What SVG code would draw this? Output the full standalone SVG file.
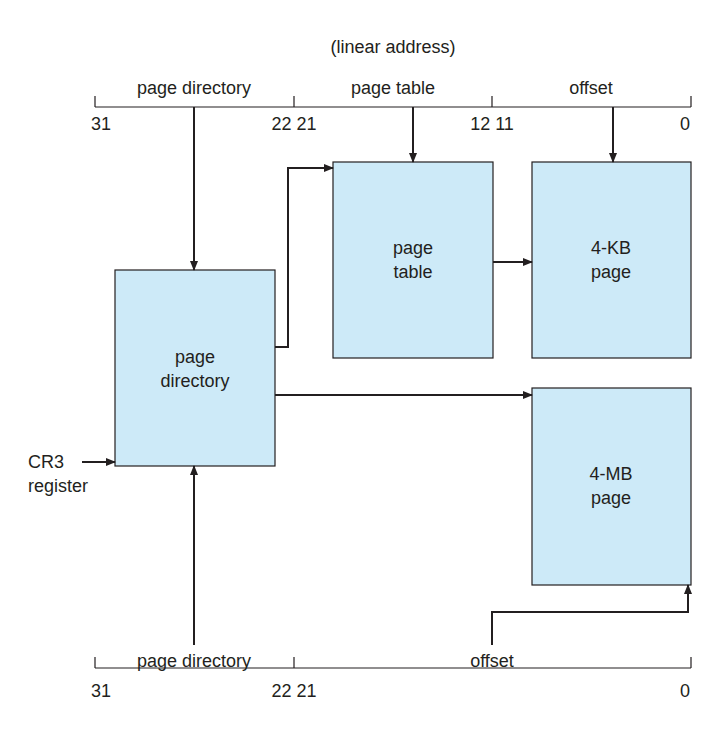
<svg xmlns="http://www.w3.org/2000/svg" width="723" height="740" viewBox="0 0 723 740">
<style>
text{font-family:"Liberation Sans",Arial,sans-serif;font-size:18px;fill:#231f20}
.m{text-anchor:middle}
.box{fill:#cdeaf8;stroke:#231f20;stroke-width:1.2}
.ln{fill:none;stroke:#231f20;stroke-width:1.2}
.ar{fill:none;stroke:#231f20;stroke-width:2}
</style>
<defs><marker id="a" markerWidth="10" markerHeight="8" refX="9" refY="4" orient="auto" markerUnits="userSpaceOnUse"><path d="M0,0 L10,4 L0,8 z" fill="#231f20"/></marker></defs>
<rect width="723" height="740" fill="#fff"/>
<g id="top-address">
<text class="m" x="393" y="53">(linear address)</text>
<path class="ln" d="M95,107H691M95,96V107M294,96V107M492,96V107M691,96V107"/>
<text class="m" x="194" y="94">page directory</text>
<text class="m" x="393" y="94">page table</text>
<text class="m" x="591" y="94">offset</text>
<text x="91" y="130">31</text>
<text class="m" x="294" y="130">22 21</text>
<text class="m" x="492" y="130">12 11</text>
<text x="680" y="130">0</text>
</g>
<g id="bottom-address">
<path class="ln" d="M95,668H691M95,657V668M294,657V668M691,657V668"/>
<text class="m" x="194" y="667">page directory</text>
<text class="m" x="492" y="667">offset</text>
<text x="91" y="697">31</text>
<text class="m" x="294" y="697">22 21</text>
<text x="680" y="697">0</text>
</g>
<g id="page-directory"><rect class="box" x="115" y="270" width="160" height="196"/><text class="m" x="195" y="363">page</text><text class="m" x="195" y="387">directory</text></g>
<g id="page-table"><rect class="box" x="333" y="162" width="160" height="196"/><text class="m" x="413" y="254">page</text><text class="m" x="413" y="278">table</text></g>
<g id="page-4kb"><rect class="box" x="532" y="162" width="159" height="196"/><text class="m" x="611" y="254">4-KB</text><text class="m" x="611" y="278">page</text></g>
<g id="page-4mb"><rect class="box" x="532" y="388" width="159" height="197"/><text class="m" x="611" y="480">4-MB</text><text class="m" x="611" y="504">page</text></g>
<g id="cr3"><text x="28" y="468">CR3</text><text x="28" y="492">register</text></g>
<g id="connectors">
<path class="ar" marker-end="url(#a)" d="M194,107V270"/>
<path class="ar" marker-end="url(#a)" d="M413,107V162"/>
<path class="ar" marker-end="url(#a)" d="M613,107V162"/>
<path class="ar" marker-end="url(#a)" d="M275,347H288V168H333"/>
<path class="ar" marker-end="url(#a)" d="M493,262H532"/>
<path class="ar" marker-end="url(#a)" d="M275,395H532"/>
<path class="ar" marker-end="url(#a)" d="M82,462H115"/>
<path class="ar" marker-end="url(#a)" d="M194,645V466"/>
<path class="ar" marker-end="url(#a)" d="M492,645V612H688V585"/>
</g>
</svg>
